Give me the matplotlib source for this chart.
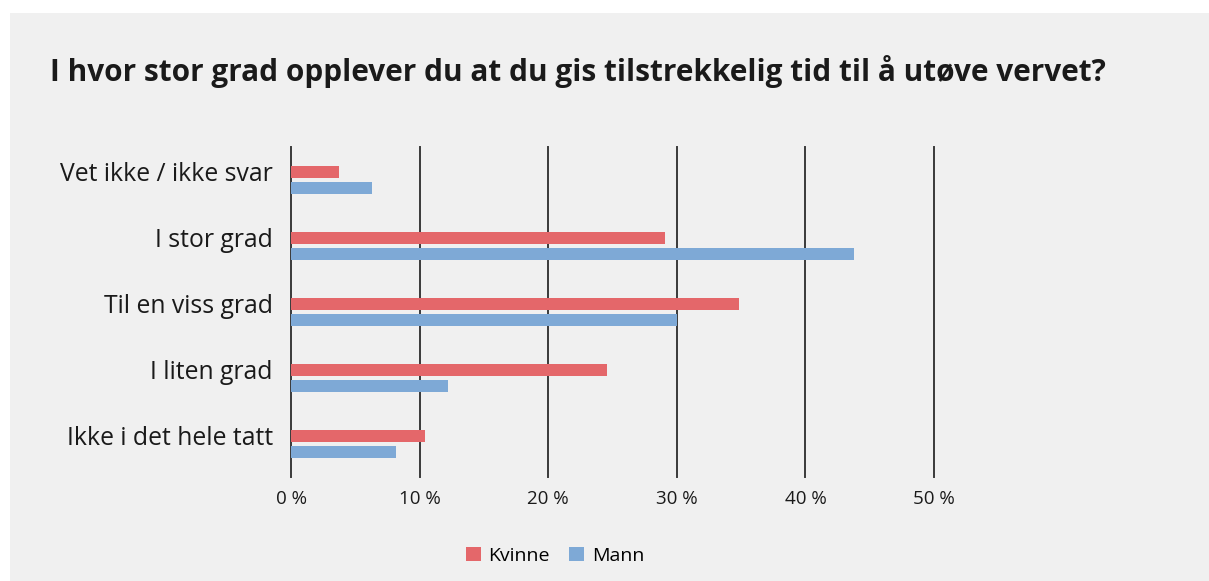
import numpy as np
import matplotlib.pyplot as plt
from matplotlib.patches import Rectangle

plt.rcParams['font.family'] = ['Open Sans', 'DejaVu Sans']

categories = ["Vet ikke / ikke svar", "I stor grad", "Til en viss grad",
              "I liten grad", "Ikke i det hele tatt"]
kvinne = [3.7, 29.1, 34.8, 24.6, 10.4]
mann = [6.3, 43.8, 30.0, 12.2, 8.2]
ticks = [0, 10, 20, 30, 40, 50]
tick_labels = ["0 %", "10 %", "20 %", "30 %", "40 %", "50 %"]

red = "#e4676a"
blue = "#7ea9d6"
bg = "#f0f0f0"

W, H = 1209, 581
fig = plt.figure(figsize=(W / 100, H / 100), dpi=100, facecolor="white")
fig.patches.append(Rectangle((10 / W, 0), 1 - 10 / W, 1 - 13 / H,
                             transform=fig.transFigure, facecolor=bg,
                             edgecolor="none", zorder=-1))

ax = fig.add_axes([291 / W, 1 - 477 / H, 643 / W, 330 / H])
ax.set_facecolor("none")

y = np.arange(len(categories))
h = 12 / 66
off = 8 / 66
ax.barh(y - off, kvinne, height=h, color=red, label="Kvinne", zorder=3)
ax.barh(y + off, mann, height=h, color=blue, label="Mann", zorder=3)

ax.set_xlim(0, 50)
ax.set_ylim(len(categories) - 0.5, -0.5)
for t in ticks:
    ax.axvline(t, color="#3a3a3a", lw=1.4, clip_on=False, zorder=2)

# category labels sit a little above the middle of each pair
ax.set_yticks(y - 0.13)
ax.set_yticklabels(categories, fontsize=17.8, color="#1a1a1a")
ax.set_xticks(ticks)
ax.set_xticklabels(tick_labels, fontsize=13.5, color="#1a1a1a")
ax.tick_params(length=0)
ax.tick_params(axis="y", pad=13)
ax.tick_params(axis="x", pad=9)
for s in ax.spines.values():
    s.set_visible(False)

fig.text(50 / W, 1 - 71 / H,
         "I hvor stor grad opplever du at du gis tilstrekkelig tid til å utøve vervet?",
         fontsize=21.4, fontweight="bold", color="#1a1a1a", va="center", ha="left")

fig.legend(loc="center", bbox_to_anchor=(555 / W, 1 - 556 / H), ncol=2,
           frameon=False, fontsize=14, handlelength=0.77, handleheight=0.77,
           handletextpad=0.4, columnspacing=1.0)

fig.savefig("out.png", dpi=100, facecolor="white")
